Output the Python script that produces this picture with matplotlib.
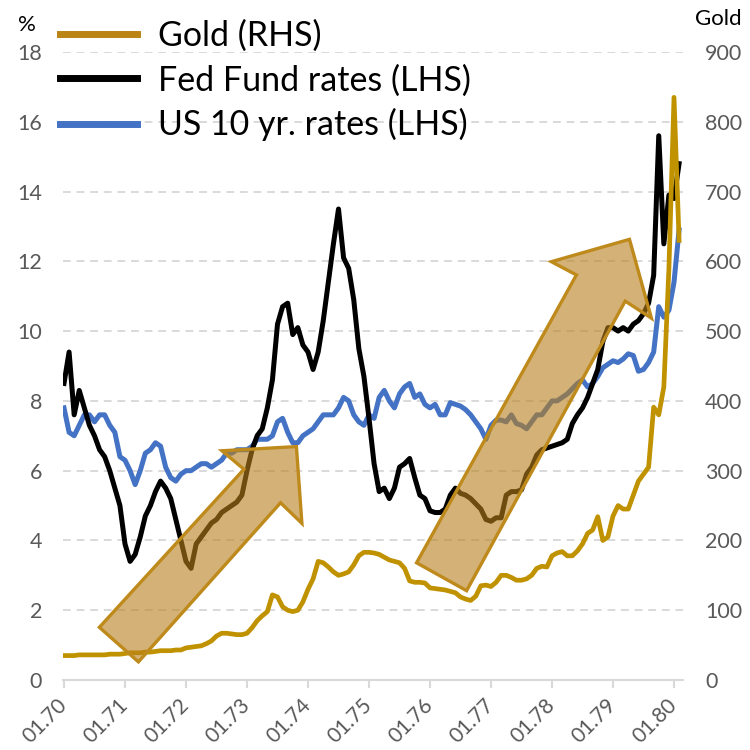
import numpy as np
import matplotlib
matplotlib.use("Agg")
import matplotlib.pyplot as plt
import matplotlib.transforms as mtransforms
from matplotlib.patches import Polygon
from matplotlib.lines import Line2D

plt.rcParams['font.family'] = ['Lato', 'DejaVu Sans']

# monthly values, Jan 1970 .. Feb 1980
fed_funds = [
    8.5, 9.4, 7.6, 8.3, 7.8, 7.3, 7.0, 6.6, 6.4, 6.0, 5.5, 5.0,      # 1970
    3.9, 3.4, 3.6, 4.1, 4.7, 5.0, 5.4, 5.7, 5.5, 5.2, 4.6, 4.0,      # 1971
    3.4, 3.2, 3.9, 4.1, 4.3, 4.5, 4.6, 4.8, 4.9, 5.0, 5.1, 5.3,      # 1972
    6.0, 6.6, 7.0, 7.2, 7.8, 8.6, 10.2, 10.7, 10.8, 9.9, 10.1, 9.6,  # 1973
    9.4, 8.9, 9.4, 10.3, 11.4, 12.5, 13.5, 12.1, 11.8, 10.9, 9.5, 8.7,  # 1974
    7.5, 6.2, 5.4, 5.5, 5.2, 5.5, 6.1, 6.2, 6.35, 5.8, 5.3, 5.2,     # 1975
    4.85, 4.8, 4.8, 4.9, 5.3, 5.5, 5.35, 5.3, 5.2, 5.05, 4.9, 4.6,   # 1976
    4.55, 4.65, 4.65, 5.3, 5.4, 5.4, 5.45, 5.9, 6.1, 6.45, 6.6, 6.65,  # 1977
    6.7, 6.75, 6.8, 6.9, 7.35, 7.6, 7.8, 8.1, 8.5, 8.9, 9.7, 10.1,   # 1978
    10.1, 10.0, 10.1, 10.0, 10.2, 10.3, 10.5, 10.8, 11.6, 15.6, 12.5, 13.9,  # 1979
    13.8, 14.8,                                                      # 1980
]
us10y = [
    7.8, 7.1, 7.0, 7.3, 7.6, 7.6, 7.4, 7.6, 7.6, 7.3, 7.1, 6.4,
    6.3, 6.0, 5.6, 6.0, 6.5, 6.6, 6.8, 6.7, 6.1, 5.8, 5.7, 5.9,
    6.0, 6.0, 6.1, 6.2, 6.2, 6.1, 6.2, 6.3, 6.5, 6.5, 6.6, 6.6,
    6.6, 6.7, 6.9, 6.9, 6.9, 7.0, 7.4, 7.5, 7.1, 6.8, 6.8, 7.0,
    7.1, 7.2, 7.4, 7.6, 7.6, 7.6, 7.8, 8.1, 8.0, 7.6, 7.4, 7.3,
    7.6, 7.5, 8.1, 8.3, 8.0, 7.8, 8.2, 8.4, 8.5, 8.1, 8.2, 7.9,
    7.8, 7.9, 7.6, 7.6, 7.95, 7.9, 7.85, 7.75, 7.6, 7.4, 7.2, 6.9,
    7.3, 7.45, 7.45, 7.4, 7.6, 7.35, 7.3, 7.2, 7.4, 7.6, 7.6, 7.8,
    8.0, 8.0, 8.1, 8.2, 8.35, 8.5, 8.6, 8.4, 8.5, 8.7, 8.95, 9.05,
    9.15, 9.1, 9.2, 9.35, 9.3, 8.85, 8.9, 9.1, 9.4, 10.7, 10.4, 10.6,
    11.4, 12.9,
]
gold = [
    35, 35, 35, 36, 36, 36, 36, 36, 36, 37, 37, 37,
    38, 39, 39, 39, 40, 40, 41, 42, 42, 42, 43, 43,
    46, 47, 48, 49, 52, 56, 63, 67, 67, 66, 65, 65,
    67, 75, 85, 92, 98, 122, 119, 105, 100, 98, 100, 112,
    130, 145, 170, 168, 162, 155, 150, 152, 155, 165, 178, 183,
    183, 182, 180, 176, 172, 170, 168, 160, 142, 140, 140, 139,
    132, 131, 130, 129, 127, 125, 119, 116, 114, 120, 135, 136,
    134, 140, 150, 150, 147, 143, 143, 145, 150, 160, 163, 162,
    178, 182, 184, 178, 178, 185, 195, 210, 215, 234, 200, 205,
    235, 250, 245, 245, 265, 285, 295, 305, 391, 380, 420, 590,
    835, 630,
]
t = 1970 + np.arange(len(gold)) / 12.0

years = np.arange(1970, 1981)
year_labels = ["01.%02d" % (y % 100) for y in years]

# arrow outlines (year, % on left axis)
arrow1_x = [1970.58, 1971.22, 1973.55, 1973.90, 1973.81, 1972.59, 1972.95]
arrow1_y = [1.51, 0.52, 5.08, 4.49, 6.69, 6.57, 6.04]
arrow2_x = [1975.78, 1976.60, 1979.20, 1979.63, 1979.27, 1977.99, 1978.40]
arrow2_y = [3.36, 2.56, 10.86, 10.37, 12.63, 11.99, 11.61]

GOLD = '#C09200'
BLUE = '#4472C4'
GRID = '#D9D9D9'
TXT = '#595959'

fig = plt.figure(figsize=(7.5, 7.5), dpi=100)
ax = fig.add_axes([63/750, 70/750, 620/750, 628/750])
ax2 = ax.twinx()

ax.plot(t, us10y, color=BLUE, lw=3.6, solid_joinstyle='round', zorder=2)
ax.plot(t, fed_funds, color='black', lw=3.6, solid_joinstyle='round', zorder=3)
ax2.plot(t, gold, color=GOLD, lw=3.4, solid_joinstyle='round', zorder=2)

for xs, ys in [(arrow1_x, arrow1_y), (arrow2_x, arrow2_y)]:
    pts = np.column_stack([xs, ys])
    ax2.add_patch(Polygon(pts, closed=True, facecolor='#B8801C', alpha=0.6,
                          edgecolor='none', transform=ax.transData, zorder=5))
    ax2.add_patch(Polygon(pts, closed=True, facecolor='none', edgecolor='#BF8A1C',
                          lw=2.4, joinstyle='miter', transform=ax.transData, zorder=6))

ax.set_xlim(1970 - 1/61, 1970 + 619/61)
ax.set_ylim(0, 18)
ax2.set_ylim(0, 900)
ax.set_yticks(np.arange(0, 19, 2))
ax2.set_yticks(np.arange(0, 901, 100))
ax.set_xticks(years)
ax.set_xticklabels(year_labels, rotation=45, ha='right', va='center',
                   rotation_mode='anchor')
shift = mtransforms.ScaledTranslation(4/100, 0, fig.dpi_scale_trans)
for lab in ax.get_xticklabels():
    lab.set_transform(lab.get_transform() + shift)

ax.yaxis.grid(True, color=GRID, ls=(0, (4, 3)), lw=1.4)
ax.set_axisbelow(True)
for a in (ax, ax2):
    for s in ['top', 'left', 'right']:
        a.spines[s].set_visible(False)
ax2.spines['bottom'].set_visible(False)
ax.spines['bottom'].set_color(GRID)
ax.spines['bottom'].set_linewidth(1.5)

ax.tick_params(axis='y', length=0, pad=15, labelsize=15.5, labelcolor=TXT)
ax2.tick_params(axis='y', length=0, pad=16, labelsize=15.5, labelcolor=TXT)
ax.tick_params(axis='x', length=6, width=1.5, color=GRID, pad=10,
               labelsize=15, labelcolor=TXT)

fig.text(27/750, 1 - 25/750, '%', fontsize=16, ha='center', va='center')
fig.text(718/750, 1 - 19/750, 'Gold', fontsize=16, ha='center', va='center')

handles = [Line2D([], [], color='#BA8416', lw=5),
           Line2D([], [], color='black', lw=5),
           Line2D([], [], color=BLUE, lw=5)]
labels = ['Gold (RHS)', 'Fed Fund rates (LHS)', 'US 10 yr. rates (LHS)']
fig.legend(handles, labels, loc='upper left', bbox_to_anchor=(60/750, 1 - 20/750),
           frameon=False, fontsize=24.5, handlelength=2.25, handletextpad=0.62,
           labelspacing=0.35, borderpad=0, borderaxespad=0)

fig.savefig('out.png', dpi=100)
